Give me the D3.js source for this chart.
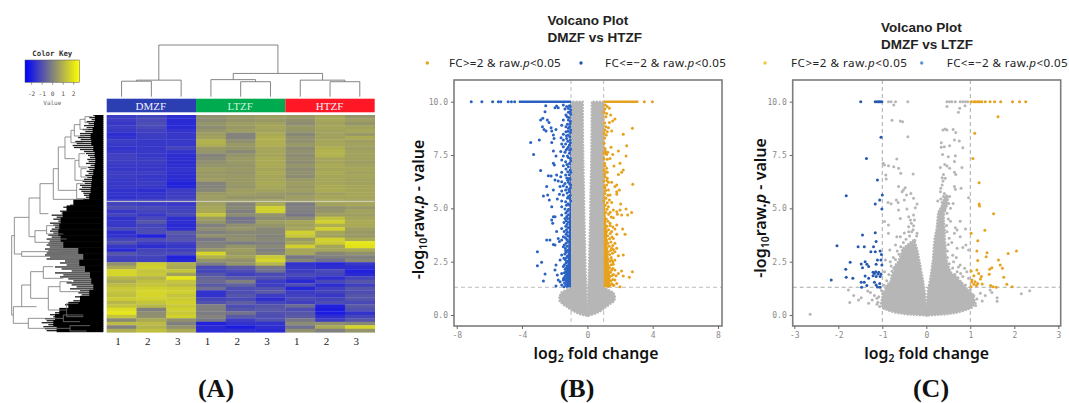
<!DOCTYPE html>
<html>
<head>
<meta charset="utf-8">
<script src="https://cdn.jsdelivr.net/npm/d3@7"></script>
<style>
  html, body { margin: 0; padding: 0; background: #fff; }
  svg { display: block; }
</style>
</head>
<body>
<div id="chart"></div>
<script>
const WIDTH = 1069;
const HEIGHT = 403;

// ---- heatmap data ----
const sampleGroups = ["DMZF", "LTZF", "HTZF"];
const sampleLabels = ["1", "2", "3", "1", "2", "3", "1", "2", "3"];
const heatRows = [
  [-1.6,-1.4,-1.9,.4,.6,.7,.6,.9,.5],
  [-1.6,-1.3,-2.0,.3,.5,.6,.4,.9,.7],
  [-1.7,-1.2,-2.0,.5,.7,.8,.3,.8,.5],
  [-1.6,-1.3,-2.0,.3,.6,.9,.6,.9,.8],
  [-1.7,-1.5,-1.8,.5,.7,.8,.5,.8,.9],
  [-1.9,-1.6,-1.7,.7,.1,1.0,.2,.8,.6],
  [-1.8,-1.6,-1.7,.8,.1,1.1,.4,.8,1.0],
  [-1.6,-1.7,-1.7,1.2,.4,1.1,.4,.9,.7],
  [-1.7,-1.7,-1.7,1.1,.6,1.1,.6,.9,.8],
  [-1.8,-1.7,-1.4,.6,.5,.9,.3,1.1,.7],
  [-1.7,-1.7,-1.8,.5,.2,.9,.4,1.2,.8],
  [-1.5,-1.7,-1.9,.1,.5,.9,.3,1.2,.8],
  [-1.5,-1.6,-1.9,.2,.6,1.0,.4,.9,.8],
  [-1.6,-1.6,-1.9,.4,.6,1.0,.3,.9,.7],
  [-1.7,-1.7,-1.9,.5,.5,1.0,.5,1.0,.8],
  [-1.7,-1.7,-1.8,.7,.6,.9,.3,.9,.9],
  [-1.6,-1.6,-1.9,.6,.5,1.0,.4,1.0,.8],
  [-1.6,-1.7,-1.9,.6,.6,.9,.3,.9,.9],
  [-1.7,-1.7,-2.0,.7,.6,.9,.6,.9,.8],
  [-1.7,-1.6,-2.2,.1,.6,1.0,.7,.9,.8],
  [-1.7,-1.7,-2.1,.1,.5,.9,.6,1.0,.9],
  [-1.8,-1.9,-1.6,.2,.7,.8,.7,1.0,.9],
  [-1.8,-1.8,-1.6,.6,.7,.6,.5,.8,.9],
  [-1.8,-1.7,-1.5,.7,.5,.5,.7,.9,.9],
  [-1.7,-1.6,-1.5,.6,.6,.7,.6,.9,.8],
  [-1.4,-1.6,-1.7,.8,.1,1.0,-.1,.8,.9],
  [-1.2,-1.3,-1.5,.9,.2,1.9,.0,.4,.6],
  [-1.7,-1.4,-1.4,1.0,.0,1.9,.0,.5,.8],
  [-1.4,-1.7,-1.3,1.6,.3,.5,-.2,.7,.7],
  [-1.8,-1.3,-1.9,.7,-.3,.3,.3,1.5,.9],
  [-1.7,-1.0,-1.9,.5,-.2,.7,.9,1.9,1.0],
  [-1.7,-1.4,-2.0,.0,.4,.5,.8,1.1,1.0],
  [-1.3,-1.3,-1.9,.3,.5,.2,.9,1.9,.7],
  [-1.9,-1.2,-.9,.0,.2,.2,1.9,.9,.6],
  [-1.8,-2.2,-1.1,.4,.3,.1,1.7,.8,.6],
  [-1.4,-1.2,-1.0,-.2,.4,.2,.6,1.9,1.0],
  [-1.1,-1.6,-1.5,.0,-.1,.0,.9,1.8,2.4],
  [-1.7,-1.9,-1.7,.1,.5,.2,1.9,.9,2.3],
  [-2.0,-1.4,-1.5,.5,.7,.0,.9,.9,1.0],
  [-1.0,-1.3,-1.2,2.0,.6,.2,.9,.2,.4],
  [-1.4,-1.4,-2.2,1.2,.8,1.7,-.2,.0,.0],
  [-1.5,-1.5,-2.1,.5,.4,2.0,.2,-.4,.2],
  [.4,1.8,1.1,-.1,.5,1.3,-1.8,-2.0,-1.7],
  [1.0,1.9,1.0,-1.3,-.9,-.2,-1.7,-1.9,-1.9],
  [2.0,1.6,1.6,-1.4,-1.2,-.4,-1.6,-1.3,-2.2],
  [2.0,1.7,.8,-1.0,-1.5,-1.3,-1.3,-1.4,-2.0],
  [1.3,1.2,2.4,-.6,-.9,-1.1,-1.6,-1.9,-1.4],
  [1.0,1.5,1.6,-.5,.0,-1.6,-2.0,-1.3,-1.0],
  [1.4,1.6,1.4,-.9,-.7,-1.6,-1.2,-1.9,-1.5],
  [1.7,1.9,1.8,-.4,-1.2,-1.1,-2.1,-1.5,-1.0],
  [1.6,2.0,1.9,-1.8,-1.2,-.9,-1.6,-1.4,-1.2],
  [1.5,2.0,1.6,-1.8,-1.0,-1.6,-1.5,-1.7,-1.0],
  [1.8,1.9,1.8,-1.4,-1.3,-1.9,-1.3,-1.4,-1.0],
  [1.3,1.6,1.9,-1.1,-.8,-1.4,-1.5,-1.2,-1.3],
  [1.6,1.3,1.7,.0,-1.2,-1.0,-.5,-2.2,-.9],
  [2.2,.0,1.9,.0,-1.0,-.9,-1.2,-2.3,-1.1],
  [2.4,.3,1.7,-.1,-.3,-1.1,-1.0,-2.3,-1.8],
  [1.6,.4,1.9,.1,-.9,-1.2,-.9,-1.9,-1.4],
  [.2,1.0,.4,-.2,-1.6,-1.1,-.2,-1.6,-1.0],
  [1.4,1.4,.0,-2.2,-1.8,-1.8,.3,.4,.2],
  [.0,1.2,.4,-2.0,-2.3,-1.9,-.4,1.0,2.0],
  [1.1,1.5,1.0,-2.0,-1.9,-2.0,.4,.0,.5]
];
const keyTicks = [-2, -1, 0, 1, 2];

// column dendrogram, heights only, leaves are column indexes
const colTree = { h: 1, children: [
  { h: .32, children: [ { h: .3, children: [{ leaf: 0 }, { leaf: 1 }] }, { leaf: 2 } ] },
  { h: .45, children: [
    { h: .33, children: [ { leaf: 3 }, { h: .29, children: [{ leaf: 4 }, { leaf: 5 }] } ] },
    { h: .32, children: [ { leaf: 6 }, { h: .29, children: [{ leaf: 7 }, { leaf: 8 }] } ] }
  ] }
] };

// row dendrogram merges: distance, top row, bottom row, top child distance, bottom child distance
const rowMerges = [
  [55,5,23,33,40],[70,13,43,55,45],[87,29,63,70,55],[97,46,83,87,60],[115,66,131,97,85],
  [73,116,156,55,45],[85,136,196,73,60],[67,161,186,50,45],[80,206,251,60,55],
  [135,96,226,115,80],[150,161,253,135,70],[190,206,296,150,165],[223,249,365,190,205],
  [205,347,382,170,160],[170,332,357,140,120],[160,372,397,110,130],[267,307,417,223,245],
  [245,410,424,130,150],[275,362,600,267,270],[270,575,625,245,225],[245,510,575,218,200],
  [218,470,550,180,165],[180,455,490,150,120],[165,515,585,130,110],[130,500,530,95,70],
  [110,565,605,75,60],[225,610,640,120,100],[120,600,620,60,70],[100,632,648,40,50]
];
// tips of the leaf spikes, top to bottom
const rowFringe = [
  30,42,35,50,44,58,50,62,54,70, 70,76,68,84,80,92,88,70,58,52,
  46,40,48,44,52,38,46,42,50,44, 54,48,58,62,56,70,64,72,66,60,
  58,52,60,56,52,100,120,110,130,125, 155,140,150,135,160,150,145,155,160,150,
  165,155,170,160,165,170,160,175,165,170, 175,160,170,115,130,110,145,125,95,145,
  120,130,105,90,110,95,80,100,70,75, 65,85,60,90,70,115,100,125,130,145,
  160,150,175,170,185,165,180,175,170
];
// solid part of the leaf mass, top to bottom
const rowCore = [
  25,28,32,38,36,30,26,24,26,30,34,36,
  38,42,90,110,122,128,132,135,128,120,
  75,60,72,55,40,36,30,42,70,105,132,145,150,140
];

// ---- volcano B: DMZF vs HTZF ----
const bGreyP =    [-.03,.05,.2,.35,.5,.65,.85,1.05,1.3,2,3,4,5,6,7,8,9,10];
const bLeftOut =  [-.1,-.5,-.9,-1.2,-1.5,-1.7,-1.72,-1.6,-1,-.98,-.98,-.98,-.98,-.98,-.98,-.98,-.98,-.98];
const bLeftIn =   [0,0,-.01,-.02,-.03,-.04,-.05,-.05,-.06,-.1,-.13,-.16,-.19,-.21,-.24,-.26,-.27,-.28];
const bRightIn =  [0,0,.01,.02,.03,.04,.05,.05,.06,.09,.12,.15,.18,.2,.23,.25,.26,.27];
const bRightOut = [.1,.45,.85,1.1,1.35,1.65,1.7,1.6,1,1,1,1,1,1,1,1,1,1];
const bBandP =    [1.3,2,2.5,3,3.5,4,4.5,5,5.5,6,7,8,9,9.9];
const bBlueBand = [-1.3,-1.28,-1.2,-1.18,-1.16,-1.14,-1.12,-1.1,-1.06,-1.05,-1.04,-1.04,-1.04,-1.03];
const bGoldBand = [1.42,1.38,1.3,1.26,1.22,1.2,1.14,1.1,1.06,1.05,1.03,1.03,1.03,1.03];
const bBlueTop = [-4.2, -1];
const bGoldTop = [1, 3.12];
const bBlue = [
  [-7.11,10],[-6.46,10],[-5.8,10],[-5.45,10],[-5.3,10],[-4.85,10],[-4.65,10],[-4.45,10],
  [-2.55,9.81],[-1.98,9.72],[-1.88,9.8],[-1.78,9.72],[-1.47,9.84],[-1.27,9.77],[-1.1,9.81],[-1.37,9.66],[-1.02,9.61],
  [-2.59,9.53],[-1.16,9.5],[-1.02,9.41],[-1.31,9.38],[-2.73,9.22],[-2.86,9.14],[-2.45,9.14],[-2.35,9.03],[-1.47,9.14],
  [-1.57,8.9],[-1.16,9.14],[-1.06,8.98],[-1.31,8.83],[-2.75,8.83],[-2.65,8.7],[-2.53,8.63],[-2.22,8.78],[-2.18,8.63],
  [-1.92,8.7],[-1.16,8.75],[-1.02,8.67],[-1.31,8.59],[-1.47,8.47],[-1.16,8.44],[-2.08,8.44],[-2.04,8.28],[-2.18,8.09],
  [-2.94,8.2],[-3.47,8.09],[-1.61,8.31],[-1.47,8.2],[-1.27,8.28],[-1.06,8.2],[-1.57,8.02],[-1.33,8.02],[-1.1,7.97],
  [-1.47,7.89],[-1.22,7.81],[-1.02,7.78],[-3.29,7.53],[-2.08,7.69],[-1.92,7.45],[-1.63,7.66],[-1.37,7.63],[-1.1,7.58],
  [-1.47,7.45],[-1.16,7.38],[-1.57,7.27],[-1.33,7.19],[-1.02,7.22],[-2.08,7.11],[-2.02,7.03],[-1.47,7],[-1.16,6.95],
  [-2.86,6.77],[-1.31,6.84],[-1.57,6.69],[-1.02,6.69],[-2.39,6.53],[-2.22,6.52],[-1.88,6.56],[-1.63,6.48],[-1.33,6.56],
  [-1.1,6.41],[-1.98,6.33],[-1.78,6.28],[-1.57,6.25],[-1.37,6.17],[-1.16,6.22],[-1.02,6.09],[-1.47,6.06],[-2.49,6.02],
  [-1.67,6.02],[-2.08,5.86],[-1.57,5.81],[-1.33,5.86],[-1.1,5.78],[-2.69,5.58],[-2.43,5.63],[-1.71,5.66],[-1.47,5.63],
  [-1.16,5.55],[-2.33,5.39],[-1.84,5.44],[-1.57,5.34],[-1.33,5.31],[-1.02,5.34],
  [-2.18,5.08],[-1.57,5.08],[-1.37,4.97],[-2.08,4.61],[-1.98,4.61],[-2.18,4.45],[-2.12,4.3],[-1.57,4.69],[-1.37,4.53],
  [-1.43,4.34],[-1.88,3.91],[-1.57,4.06],[-1.47,3.67],[-1.78,3.59],[-1.71,3.44],[-2.49,3.52],[-2.29,3.52],[-2.08,3.31],
  [-1.98,3.28],[-1.57,3.52],[-1.47,3.2],[-3.06,2.97],[-2.8,2.47],[-3.06,2.31],[-2.59,1.92],[-2.69,1.59],[-1.92,2.34],
  [-1.98,2.11],[-1.84,1.88],[-1.78,1.64],[-1.92,1.36],[-1.57,2.81],[-1.67,2.58],[-1.47,2.27],[-1.57,1.95],[-1.67,1.56],
  [-1.57,1.41],[-1.43,2.66],[-1.37,1.8],[-1.47,1.64],[-1.33,3.0],[-1.27,2.5],[-1.31,2.02],[-1.43,1.33],
  [-1.25,1.35],[-1.32,1.42],[-1.4,1.5],[-1.28,1.58],[-1.36,1.66],[-1.24,1.74],[-1.45,1.72],[-1.33,1.85],[-1.26,1.92],[-1.41,1.98],
  [-1.24,2.08],[-1.36,2.14],[-1.29,2.22],[-1.23,2.3],[-1.4,2.36],[-1.3,2.44],[-1.22,2.52],[-1.36,2.6],[-1.27,2.7],[-1.21,2.78],
  [-1.38,2.86],[-1.28,2.94],[-1.2,3.04],[-1.34,3.12],[-1.24,3.22],[-1.41,3.28],[-1.3,3.36],[-1.19,3.44],[-1.26,3.54],[-1.35,3.62],
  [-1.2,3.7],[-1.3,3.78],[-1.22,3.88],[-1.42,3.92],[-1.28,4.0],[-1.18,4.1],[-1.32,4.16],[-1.24,4.26],[-1.17,4.36],[-1.3,4.42],
  [-1.2,4.52],[-1.26,4.62],[-1.16,4.7],[-1.32,4.78],[-1.22,4.86],[-1.15,4.96],[-1.28,5.14],[-1.18,5.22],[-1.1,5.16],[-1.08,5.46],
  [-1.22,5.48],[-1.05,5.62],[-1.24,5.72],[-1.14,5.88],[-1.04,5.96],[-1.26,6.0],[-1.08,6.14],[-1.2,6.32],[-1.06,6.36],[-1.26,6.42],
  [-1.12,6.58],[-1.05,6.8],[-1.2,6.72],[-1.1,7.1],[-1.25,7.06],[-1.04,7.34],[-1.22,7.46],[-1.08,7.72],[-1.3,7.74],[-1.16,7.88],
  [-1.04,8.08],[-1.2,8.14],[-1.08,8.36],[-1.28,8.4],[-1.04,8.56],[-1.18,8.62],[-1.08,8.84],[-1.22,8.94],[-1.04,9.08],[-1.14,9.26],
  [-1.24,9.3],[-1.06,9.5],[-1.16,9.68],[-1.05,9.78]
];
const bGold = [
  [3.49,10],[3.98,10],
  [1.22,9.77],[1.08,9.66],[1.35,9.69],[1.02,9.5],[1.18,9.45],[1.43,9.38],[1.14,9.3],[1.69,9.19],[1.55,9.09],[1.35,9.03],
  [1.14,8.83],[1.29,8.78],[1.08,8.67],[1.49,8.63],[1.22,8.59],[1.02,8.52],[2.76,8.75],[2.2,8.47],[1.02,8.05],[2.41,7.94],
  [1.45,7.86],[1.9,7.69],[1.08,7.81],[1.02,7.58],[1.14,7.58],[1.25,7.63],[1.18,7.53],[1.55,7.53],[2.37,7.45],[1.39,7.34],
  [1.02,7.34],[2,7.11],[1.63,6.98],[1.08,7],[1.18,6.88],[1.02,6.8],[2.2,6.8],[2.1,6.69],[1.22,6.69],[1.9,6.59],[1.08,6.48],
  [1.22,6.41],[1.02,6.28],[1.49,6.22],[1.29,6.22],[1.18,6.09],[2.78,6.13],[1.8,6.09],[1.69,6.02],[1.08,5.97],[1.96,5.86],
  [1.8,5.78],[1.29,5.86],[1.08,5.7],[1.39,5.63],[1.8,5.66],[1.14,5.47],[1.35,5.39],[1.02,5.34],[1.49,5.28],[2.04,5.2],
  [2.37,4.97],[1.59,4.92],[1.8,4.84],[2,4.92],[2.71,4.81],[1.29,5.08],[1.84,4.72],[2.47,4.69],[2.1,4.69],[1.59,4.56],
  [1.39,4.3],[1.8,4.22],[2.16,4.03],[1.69,4.03],[1.49,3.91],[2.31,3.78],[1.8,3.78],[1.59,3.59],[1.69,3.36],[1.8,3.13],
  [1.49,3.13],[1.69,2.97],[2.2,2.81],[1.9,2.78],[1.69,2.58],[1.49,2.58],[1.59,2.38],[2.1,2.06],[2.76,2.03],[1.9,1.95],
  [1.76,1.84],[2.2,1.83],[2.57,1.77],[1.69,1.64],[1.8,1.48],[1.59,1.41],[2,1.33],[1.49,2.11],[1.69,2.11],
  [1.25,1.35],[1.38,1.4],[1.5,1.46],[1.62,1.38],[1.3,1.55],[1.44,1.6],[1.56,1.66],[1.24,1.72],[1.36,1.78],[1.48,1.84],
  [1.6,1.9],[1.3,1.94],[1.42,2.0],[1.24,2.08],[1.56,2.18],[1.36,2.22],[1.28,2.32],[1.46,2.36],[1.22,2.44],[1.38,2.52],
  [1.56,2.5],[1.28,2.62],[1.46,2.7],[1.2,2.76],[1.36,2.84],[1.54,2.9],[1.26,2.96],[1.42,3.02],[1.6,3.06],[1.2,3.12],
  [1.34,3.22],[1.56,3.26],[1.26,3.36],[1.44,3.42],[1.18,3.5],[1.36,3.58],[1.5,3.66],[1.24,3.72],[1.4,3.82],[1.18,3.9],
  [1.3,4.0],[1.56,4.12],[1.2,4.16],[1.4,4.2],[1.26,4.4],[1.16,4.5],[1.46,4.6],[1.3,4.72],[1.14,4.8],[1.4,4.82],
  [1.2,4.96],[1.1,5.14],[1.22,5.26],[1.08,5.5],[1.26,5.62],[1.12,5.84],[1.04,6.04],[1.2,6.3],[1.06,6.6],[1.14,6.72],
  [1.06,7.12],[1.22,7.3],[1.1,7.7],[1.06,8.3],[1.16,8.44],[1.06,9.0],[1.1,9.84]
];

// ---- volcano C: DMZF vs LTZF ----
const cLeftP =    [-.02,.03,.1,.2,.31,.55,.8,1.0,1.2,1.4,1.6,1.8,2.1,2.3,2.5,2.7,2.9,3.1,3.3,3.5];
const cLeftOut =  [-.06,-.45,-.68,-.85,-.98,-1.03,-1.0,-1.0,-.93,-.9,-.8,-.8,-.72,-.72,-.64,-.6,-.56,-.55,-.42,-.3];
const cLeftIn =   [0,0,0,0,0,-.01,-.02,-.03,-.04,-.06,-.07,-.09,-.12,-.13,-.15,-.17,-.19,-.21,-.24,-.27];
const cRightP =   [-.02,.03,.1,.2,.31,.55,.8,1,1.2,1.4,1.7,2.0,2.3,2.6,2.9,3.2,3.6,4,4.4,4.8,5.2,5.6];
const cRightIn =  [0,0,0,0,0,.01,.02,.03,.04,.06,.09,.11,.13,.15,.16,.17,.19,.23,.25,.27,.37,.42];
const cRightOut = [.06,.45,.68,.85,1.0,1.12,1.08,1.05,.92,.86,.72,.56,.5,.46,.44,.44,.42,.42,.4,.4,.48,.5];
const cGrey = [
  [-.86,10],[-.8,10],[-.7,10],[-.42,10],[.47,10],[.53,10],[.58,10],[.66,10],[.77,10],[.83,10],[.89,10],[.94,10],
  [-.74,9.84],[.47,9.77],[.76,9.69],[.73,9.5],[.88,9.81],[-.78,9.13],[-.59,9.09],[-.54,9.06],
  [.38,8.67],[.43,8.72],[.47,8.67],[.61,8.7],[.67,8.56],[-.42,8.36],[.34,8.08],[.64,8.2],[.75,8.16],[.53,7.94],[.34,7.86],
  [.41,7.89],[.83,7.84],[.37,7.53],[.5,7.42],[.66,7.47],[-.67,7.31],[.64,7.2],[-.98,7.11],[-.95,7.03],[-.86,7],[-.74,6.95],
  [-.63,6.88],[.42,7.06],[.47,6.98],[.32,6.91],[.81,6.92],[.53,6.88],[-.58,6.64],[-.3,6.61],[-.92,6.56],[-.91,6.38],
  [.64,6.69],[.67,6.59],[.39,6.59],[.36,6.44],[.43,6.41],[.38,6.28],[-.63,6.02],[-.48,5.97],[-.52,5.86],[-.55,5.78],
  [.36,6.09],[.33,5.94],[.64,6.02],[.66,5.89],[.79,5.94],[.32,5.78],[.41,5.7],[-.35,5.7],[-.45,5.63],[-.29,5.47],[.39,5.55],
  [.53,5.55],[-.5,5.39],[-.68,5.39],[.26,5.34],[.33,5.44],[.96,5.5],[-.87,5.28],[-.64,5.28],[-.8,5.22],[-.21,5.2],[.36,5.28],
  [.51,5.23],[.61,5.23],[.43,5.2],
  [-2.64,.03],[-1.77,1.17],[-1.65,.91],[-1.74,.59],[-1.54,.7],[-1.48,.81],[-1.33,1.12],[-1.27,1.06],[-1.23,.7],[-1.31,.55],
  [-1.12,.78],[-1.18,.91],[2.16,1],[2.35,1.14],[1.61,.81],[1.61,.64],[1.49,1.06],[1.34,.91],[1.45,1.17],[1.27,.66],[1.23,1.02],
  [-.95,4.38],[-.86,4.22],[-.59,4.53],[-.4,4.61],[-.36,4.45],[-.44,4.97],[-.25,5.03],[-.29,4.69],[-.63,4.92],[-.86,3.83],
  [-.67,3.67],[-.4,4.14],[-.29,4.19],[-.21,3.83],[-.59,3.67],[-.7,3.28],[-.83,3.05],[-.93,2.58],[-.95,2.03],[-.82,2.5],[-.74,2.19],
  [.47,4.77],[.55,4.39],[.77,4.39],[.66,4.09],[.89,4.03],[.7,3.98],[.64,3.83],[.77,3.67],[.83,3.16],[.9,3.28],[.96,3.05],[.7,3.13],
  [.62,2.5],[.77,2.34],[.87,2.19],[.7,2.03],[.92,2.03],[.83,1.8],[.96,1.72],[.89,1.41],
  [-.9,1.6],[-.85,1.9],[-.78,2.05],[-.8,2.3],[-.7,2.6],[-.75,2.7],[-.62,2.85],[-.66,3.0],[-.58,3.2],[-.52,3.4],[-.46,3.55],
  [-.38,3.7],[-.33,3.9],[-.26,3.5],[-.22,3.7],[-.3,4.0],[-.4,3.9],[-.5,3.85],[-.34,4.3],[-.27,4.45],[-.96,1.4],[-1.02,1.15],
  [-1.08,.85],[-1.1,.6],[-1.06,.4],[-.96,.32],[-1.12,.5],
  [.48,2.7],[.52,2.4],[.6,2.2],[.65,1.9],[.72,1.75],[.78,1.55],[.85,1.2],[.92,1.2],[1,1.2],[.98,1.0],[1.08,.9],[1.15,.75],
  [1.12,.45],[1.02,.35],[.48,3.0],[.5,3.3],[.52,3.6],[.47,3.9],[.46,4.2],[.5,4.5],[.42,4.9],[.45,5.1],[.36,4.7],[.55,5.0],
  [.58,3.4],[.6,2.8],[.68,2.7],[.56,1.8],[.78,1.95],[.73,2.25],[.62,1.6]
];
const cBlue = [
  [-1.49,10],[-1.16,10],[-1.12,10],[-1.08,10],[-1.05,10],[-1.01,10],
  [-1.03,8.33],[-1.36,7.34],[-1.11,6.33],[-1.82,5.59],[-1,5.63],[-1.06,5.39],[-1.16,5.2],
  [-1.01,4.97],[-1.16,3.86],[-1.45,3.75],[-2.03,3.25],[-1.55,3.2],[-1.41,3.2],[-1.14,3.44],[-1.2,3.2],[-1.26,2.97],[-1.16,2.97],
  [-1.05,3],[-1.02,2.84],[-1.03,2.58],[-1.73,2.47],[-1.48,2.39],[-1.39,2.5],[-1.35,2.38],[-1.45,2.22],[-1.31,2.27],[-1.11,2.58],
  [-1.14,2.38],[-1.01,2.34],[-1.83,2.14],[-1.82,1.77],[-1.67,1.72],[-2.16,1.64],[-1.21,2],[-1.15,2.03],[-1.08,2],[-1.18,1.95],
  [-1.1,1.92],[-1.03,1.91],[-1.21,1.84],[-1.14,1.8],[-1.05,1.8],[-1.39,1.83],[-1.31,1.72],[-1.48,1.53],[-1.41,1.53],[-1.18,1.53],
  [-1.14,1.41],[-1.06,1.48],[-1.47,1.3],[-1.35,1.38],[-1.11,1.31],[-1.05,1.3]
];
const cGold = [
  [1.02,10],[1.08,10],[1.12,10],[1.17,10],[1.21,10],[1.26,10],[1.34,10],[1.45,10],[1.55,10],[1.69,10],[1.96,10],[2.12,10],[2.26,10],
  [1.63,9.3],[1.1,8.52],[1.06,7.34],[1.2,6.2],[1.2,5.2],[1.21,5.11],[1.53,4.75],[1.33,3.97],[1.02,3.83],[1.17,3.48],[1.15,3],[1.38,2.92],
  [1.36,2.73],[2.05,3],[1.86,2.88],[1.64,2.58],[1.17,2.55],[1.68,2.34],[1.73,2.19],[1.49,2.22],[1.44,2.14],[1.15,2.11],[1.43,1.91],
  [1.76,1.77],[1.02,2.06],[1.08,1.84],[1.19,1.95],[1.25,1.8],[1.04,1.64],[1.11,1.56],[1.23,1.69],[1.08,1.44],[1.17,1.48],[1.27,1.45],
  [1.02,1.33],[1.46,1.38],[1.52,1.33],[1.83,1.44],[1.95,1.33],[1.59,1.3],[1.03,1.55],[1.14,1.38]
];

const GREY = "#b6b6b6";
const BLUE = "#2a62c4";
const GOLD = "#e6a21e";
const SANS = "'Noto Sans', sans-serif";
const TITLE_SANS = "'Liberation Sans', sans-serif";
const SERIF = "'Liberation Serif', serif";
const MONO = "'DejaVu Sans Mono', monospace";

const svg = d3.select("#chart").append("svg")
  .attr("width", WIDTH)
  .attr("height", HEIGHT)
  .attr("viewBox", [0, 0, WIDTH, HEIGHT]);

const defs = svg.append("defs");
defs.append("filter").attr("id", "soft").append("feGaussianBlur").attr("stdDeviation", 0.55);
defs.append("filter").attr("id", "softDots").append("feGaussianBlur").attr("stdDeviation", 0.3);

// the key runs to full blue and yellow, the cells stay duller
const heatColor = d3.scaleLinear()
  .domain([-2.58, 0, 2.58])
  .range(["#0000ff", "#808080", "#ffff00"]);
const cellColor = d3.scaleLinear()
  .domain([-3, 0, 3])
  .range(["#0000ff", "#808080", "#ffff00"]);

drawHeatmap();
drawVolcano({
  title: ["Volcano Plot", "DMZF vs HTZF"], titleX: 547.5, titleY: 25,
  frame: [454, 80, 722, 326],
  xRange: [456.7, 718], xDomain: [-8, 8], xTicks: [-8, -4, 0, 4, 8],
  greyAreas: [[bGreyP, bLeftOut, bLeftIn], [bGreyP, bRightIn, bRightOut]],
  blueBand: bBlueBand, goldBand: bGoldBand, bandP: bBandP,
  blueTop: bBlueTop, goldTop: bGoldTop,
  grey: [], blue: bBlue, gold: bGold,
  legend: [427.3, 449, 581, 605], legendWidths: [111.7, 121], legendY: 67, legendColors: [GOLD, "#1f55b5"],
  xLabel: 596, yLabel: 419, yLabelMid: 209.5, panel: "(B)", panelX: 577, dash: "#bcbcbc"
});
drawVolcano({
  title: ["Volcano Plot", "DMZF vs LTZF"], titleX: 881, titleY: 32,
  frame: [792.7, 80, 1060.7, 326],
  xRange: [794.3, 1058.3], xDomain: [-3, 3], xTicks: [-3, -2, -1, 0, 1, 2, 3],
  greyAreas: [[cLeftP, cLeftOut, cLeftIn], [cRightP, cRightIn, cRightOut]],
  grey: cGrey, blue: cBlue, gold: cGold,
  legend: [765, 791, 921.7, 946.7], legendWidths: [116, 121], legendY: 67, legendColors: ["#f2c63a", "#5b94d8"],
  xLabel: 926.7, yLabel: 760.5, yLabelMid: 208, panel: "(C)", panelX: 931, dash: "#aaaaaa"
});

function drawHeatmap() {
  const g = svg.append("g");
  const colX = d3.scaleBand().domain(d3.range(9)).range([106.7, 374.7]);
  const rowY = d3.scaleBand().domain(d3.range(heatRows.length)).range([115, 332.3]);
  const rowPos = d3.scaleLinear().domain([0, 651]).range([115, 332]);
  const dist = d3.scaleLinear().domain([0, 310]).range([103.3, 0]);

  // cells
  g.append("g").attr("filter", "url(#soft)")
    .selectAll("g").data(heatRows).join("g")
    .attr("transform", (d, i) => `translate(0,${rowY(i)})`)
    .selectAll("rect").data(d => d).join("rect")
    .attr("x", (d, i) => colX(i))
    .attr("width", colX.bandwidth() + 0.3)
    .attr("height", rowY.bandwidth() + 0.3)
    .attr("fill", d => cellColor(d));

  // pale separator across the heatmap
  g.append("line")
    .attr("x1", colX.range()[0]).attr("x2", colX.range()[1])
    .attr("y1", rowPos(259)).attr("y2", rowPos(259))
    .attr("stroke", "#d8d8c4").attr("stroke-width", 1);

  // group bars
  const barColors = ["#2b3fb2", "#00aa4f", "#ff1726"];
  const groupX = d3.scaleBand().domain(sampleGroups).range(colX.range());
  g.selectAll(".bar").data(sampleGroups).join("rect")
    .attr("x", d => groupX(d)).attr("width", groupX.bandwidth())
    .attr("y", 98.7).attr("height", 13.6)
    .attr("fill", (d, i) => barColors[i]);
  g.selectAll(".barText").data(sampleGroups).join("text")
    .attr("x", d => groupX(d) + groupX.bandwidth() / 2 - 0.5)
    .attr("y", 109.5)
    .attr("text-anchor", "middle")
    .attr("font-family", SERIF).attr("font-size", 11)
    .attr("fill", (d, i) => i == 1 ? "#c8f5df" : "#f2f2ff")
    .text(d => d);

  // sample labels
  g.selectAll(".sample").data(sampleLabels).join("text")
    .attr("x", (d, i) => colX(i) + colX.bandwidth() / 2 - 3.5)
    .attr("y", 345)
    .attr("text-anchor", "middle")
    .attr("font-family", SERIF).attr("font-size", 11)
    .attr("fill", "#222")
    .text(d => d);

  // column dendrogram
  const colH = d3.scaleLinear().domain([0, 1]).range([96.7, 45]);
  const root = d3.hierarchy(colTree);
  root.eachAfter(n => {
    n.px = n.children ? d3.mean(n.children, c => c.px) : colX(n.data.leaf) + colX.bandwidth() / 2;
    n.pH = n.children ? n.data.h : 0;
  });
  g.append("g").attr("fill", "none").attr("stroke", "#777").attr("stroke-width", 0.9)
    .selectAll("path").data(root.descendants().filter(n => n.children)).join("path")
    .attr("d", n => {
      const [a, b] = n.children;
      return d3.line()([[a.px, colH(a.pH)], [a.px, colH(n.pH)], [b.px, colH(n.pH)], [b.px, colH(b.pH)]]);
    });

  // leaf mass of the row dendrogram: thin spikes over a solid core
  const fringeY = d3.scaleBand().domain(d3.range(rowFringe.length)).range([115, 332]);
  const coreY = d3.scaleBand().domain(d3.range(rowCore.length)).range([115, 332]);
  const leaves = g.append("g").attr("filter", "url(#softDots)");
  leaves.selectAll(".spike").data(rowFringe).join("rect")
    .attr("x", d => dist(d))
    .attr("y", (d, i) => fringeY(i))
    .attr("width", d => dist(0) - dist(d))
    .attr("height", 1.3)
    .attr("fill", "#222");
  leaves.selectAll(".core").data(rowCore).join("rect")
    .attr("x", d => dist(d))
    .attr("y", (d, i) => coreY(i))
    .attr("width", d => dist(0) - dist(d))
    .attr("height", coreY.bandwidth() + 0.2)
    .attr("fill", "#000");

  // row dendrogram
  g.append("g").attr("fill", "none").attr("stroke", "#777").attr("stroke-width", 0.8)
    .selectAll("path").data(rowMerges).join("path")
    .attr("d", ([d, top, bot, dTop, dBot]) => d3.line()([
      [dist(dTop), rowPos(top)], [dist(d), rowPos(top)],
      [dist(d), rowPos(bot)], [dist(dBot), rowPos(bot)]
    ]));

  // color key
  const keyX = d3.scaleLinear().domain([-2.58, 2.58]).range([25, 79.3]);
  const grad = defs.append("linearGradient").attr("id", "keyGrad");
  grad.selectAll("stop").data(heatColor.domain()).join("stop")
    .attr("offset", d => (keyX(d) - 25) / 54.3)
    .attr("stop-color", d => heatColor(d));
  g.append("rect").attr("x", 25).attr("y", 60).attr("width", 54.3).attr("height", 22.3)
    .attr("fill", "url(#keyGrad)").attr("stroke", "#555").attr("stroke-width", 0.5);
  const keyAxis = g.append("g").attr("transform", "translate(0,82.3)")
    .call(d3.axisBottom(keyX).tickValues(keyTicks).tickSize(2.5).tickFormat(d => String(d)));
  keyAxis.select(".domain").remove();
  keyAxis.selectAll("line").attr("stroke", "#555").attr("stroke-width", 0.6);
  keyAxis.selectAll("text").attr("font-family", MONO).attr("font-size", 6.2).attr("fill", "#555").attr("y", 9);
  g.append("text").attr("x", 52.3).attr("y", 55.5).attr("text-anchor", "middle")
    .attr("font-family", MONO).attr("font-weight", "bold").attr("font-size", 7.4).attr("fill", "#333").text("Color Key");
  g.append("text").attr("x", 52.3).attr("y", 105).attr("text-anchor", "middle")
    .attr("font-family", MONO).attr("font-size", 6).attr("fill", "#666").text("Value");

  g.append("text").attr("x", 216).attr("y", 397).attr("text-anchor", "middle")
    .attr("font-family", SERIF).attr("font-weight", "bold").attr("font-size", 26).attr("fill", "#111").text("(A)");
}

function drawVolcano(c) {
  const g = svg.append("g");
  const [fx0, fy0, fx1, fy1] = c.frame;
  const x = d3.scaleLinear().domain(c.xDomain).range(c.xRange);
  const y = d3.scaleLinear().domain([0, 10]).range([315, 101.7]);

  // reference lines sit under the points
  const dashes = g.append("g").attr("stroke", c.dash).attr("stroke-width", 1).attr("stroke-dasharray", "4,3");
  [-1, 1].forEach(v => dashes.append("line").attr("x1", x(v)).attr("x2", x(v)).attr("y1", fy0).attr("y2", fy1));
  dashes.append("line").attr("x1", fx0).attr("x2", fx1).attr("y1", y(1.3)).attr("y2", y(1.3));

  const marks = g.append("g").attr("filter", "url(#softDots)");

  // dense clouds are outlined with a beaded edge, the sparse points are plotted one by one
  c.greyAreas.forEach(([ps, x0s, x1s]) => {
    const area = d3.area().y(i => y(ps[i])).x0(i => x(x0s[i])).x1(i => x(x1s[i]));
    marks.append("path").attr("d", area(d3.range(ps.length)))
      .attr("fill", GREY).attr("stroke", GREY).attr("stroke-width", 2.4)
      .attr("stroke-linecap", "round").attr("stroke-dasharray", "0.1 3");
  });
  if (c.blueBand) {
    const band = (vals, color, edge) => {
      const area = d3.area().y(i => y(c.bandP[i])).x0(i => x(vals[i])).x1(x(edge));
      marks.append("path").attr("d", area(d3.range(vals.length))).attr("fill", color);
    };
    band(c.blueBand, BLUE, -1);
    band(c.goldBand, GOLD, 1);
    marks.append("line").attr("x1", x(c.blueTop[0])).attr("x2", x(c.blueTop[1])).attr("y1", y(10)).attr("y2", y(10))
      .attr("stroke", BLUE).attr("stroke-width", 2.6);
    marks.append("line").attr("x1", x(c.goldTop[0])).attr("x2", x(c.goldTop[1])).attr("y1", y(10)).attr("y2", y(10))
      .attr("stroke", GOLD).attr("stroke-width", 2.6);
  }
  const dots = (data, color) => marks.append("g").selectAll("circle").data(data).join("circle")
    .attr("cx", d => x(d[0])).attr("cy", d => y(d[1])).attr("r", 1.5).attr("fill", color);
  dots(c.grey, GREY);
  dots(c.blue, c.blueBand ? BLUE : "#2558b0");
  dots(c.gold, GOLD);

  // frame and axes
  g.append("rect").attr("x", fx0).attr("y", fy0).attr("width", fx1 - fx0).attr("height", fy1 - fy0)
    .attr("fill", "none").attr("stroke", "#7c7c7c").attr("stroke-width", 1.6);
  const xAxis = g.append("g").attr("transform", `translate(0,${fy1})`)
    .call(d3.axisBottom(x).tickValues(c.xTicks).tickSize(3).tickFormat(d => String(d)));
  const yAxis = g.append("g").attr("transform", `translate(${fx0},0)`)
    .call(d3.axisLeft(y).tickValues([0, 2.5, 5, 7.5, 10]).tickSize(3).tickFormat(d => d.toFixed(1)));
  [xAxis, yAxis].forEach(a => {
    a.select(".domain").remove();
    a.selectAll("line").attr("stroke", "#666").attr("stroke-width", 1);
    a.selectAll("text").attr("font-family", MONO).attr("font-size", 8).attr("fill", "#8a8a8a");
  });
  xAxis.selectAll("text").attr("y", 6);

  // title
  g.selectAll(".title").data(c.title).join("text")
    .attr("x", c.titleX).attr("y", (d, i) => c.titleY + i * 16.5)
    .attr("font-family", TITLE_SANS).attr("font-weight", "bold").attr("font-size", 13.5).attr("fill", "#222")
    .text(d => d);

  // legend
  const labels = ["FC>=2 & ", "FC<=\u22122 & "];
  labels.forEach((t, i) => {
    g.append("circle").attr("cx", c.legend[i * 2]).attr("cy", c.legendY - 4).attr("r", 1.7).attr("fill", c.legendColors[i]);
    const txt = g.append("text").attr("x", c.legend[i * 2 + 1]).attr("y", c.legendY)
      .attr("font-family", SANS).attr("font-size", 11.6).attr("fill", "#222")
      .attr("textLength", c.legendWidths[i]).attr("lengthAdjust", "spacing");
    txt.append("tspan").text(t + " raw.");
    txt.append("tspan").attr("font-style", "italic").text("p");
    txt.append("tspan").text("<0.05");
  });

  // axis titles
  const xl = g.append("text").attr("x", c.xLabel).attr("y", 359).attr("text-anchor", "middle")
    .attr("font-family", SANS).attr("font-weight", 600).attr("font-size", 15.8).attr("fill", "#111");
  xl.append("tspan").text("log");
  xl.append("tspan").attr("dy", 3).attr("font-size", 10.5).text("2");
  xl.append("tspan").attr("dy", -3).text(" fold change");

  const yl = g.append("text").attr("transform", `translate(${c.yLabel},${c.yLabelMid}) rotate(-90)`)
    .attr("text-anchor", "middle").attr("y", 5)
    .attr("font-family", SANS).attr("font-weight", 600).attr("font-size", 16).attr("fill", "#111");
  yl.append("tspan").text("-log");
  yl.append("tspan").attr("dy", 3).attr("font-size", 10.5).text("10");
  yl.append("tspan").attr("dy", -3).text("raw.");
  yl.append("tspan").attr("font-style", "italic").text("p");
  yl.append("tspan").text(" - value");

  g.append("text").attr("x", c.panelX).attr("y", 397).attr("text-anchor", "middle")
    .attr("font-family", SERIF).attr("font-weight", "bold").attr("font-size", 26).attr("fill", "#111").text(c.panel);
}
</script>
</body>
</html>
